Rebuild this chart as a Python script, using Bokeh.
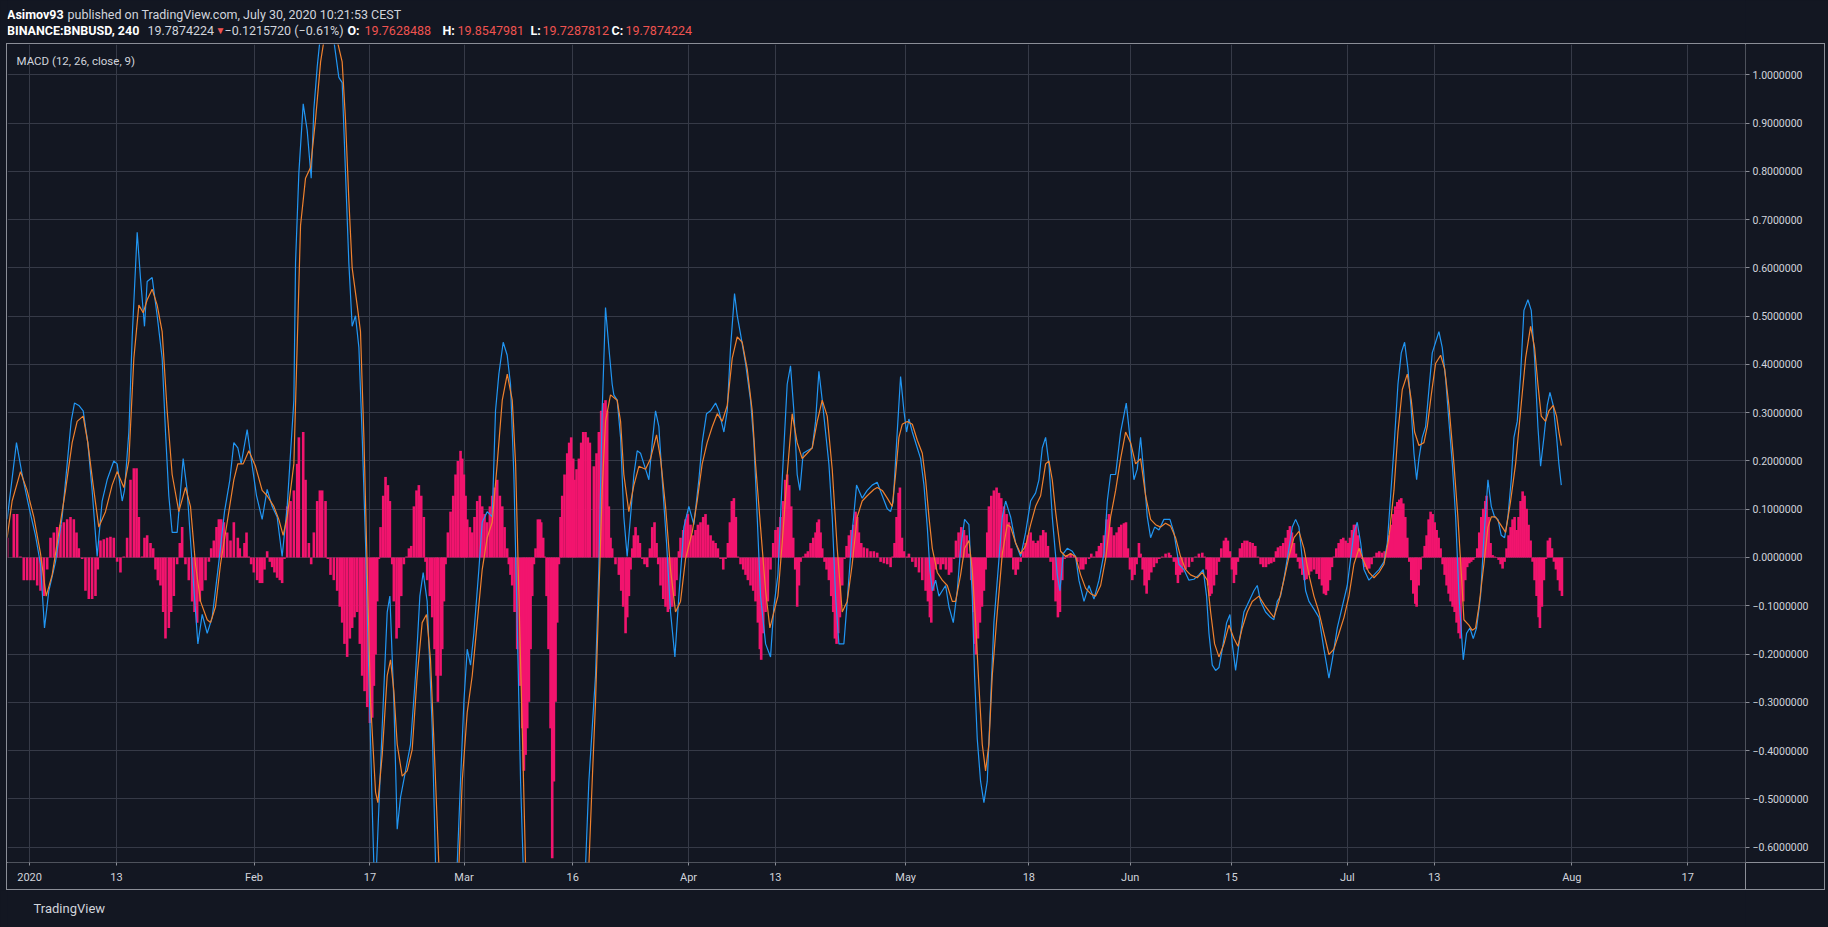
import pandas as pd
from bokeh.plotting import figure
from bokeh.layouts import column
from bokeh.models import (Range1d, LinearAxis, FixedTicker, Grid, Label,
                          ColumnDataSource, GlobalInlineStyleSheet)
from bokeh.embed import file_html
from bokeh.resources import INLINE

# ---------------- data (x = days since 2020-01-01 00:00, BINANCE:BNBUSD 4h MACD) ----------------
macd_line = [
    (-3.10, 0.079), (-1.81, 0.238), (-1.03, 0.172), (-0.11, 0.106), (0.81, 0.046), (1.51, -0.014),
    (2.06, -0.146), (2.66, -0.069), (3.58, -0.009), (4.50, 0.084), (5.19, 0.194), (5.74, 0.282),
    (6.20, 0.320), (6.80, 0.315), (7.40, 0.304), (8.04, 0.238), (8.64, 0.139), (9.33, 0.002),
    (10.02, 0.117), (10.71, 0.161), (11.63, 0.200), (12.09, 0.194), (12.79, 0.117), (13.11, 0.139),
    (13.71, 0.260), (14.17, 0.457), (14.86, 0.674), (15.32, 0.578), (15.87, 0.479), (16.24, 0.572),
    (16.93, 0.580), (17.62, 0.501), (18.31, 0.413), (18.77, 0.260), (19.23, 0.128), (19.69, 0.052),
    (20.38, 0.052), (21.21, 0.205), (21.76, 0.139), (22.45, -0.014), (23.24, -0.179), (23.84, -0.118),
    (24.53, -0.157), (25.22, -0.124), (26.14, -0.009), (26.92, 0.095), (27.66, 0.161), (28.21, 0.238),
    (28.76, 0.227), (29.22, 0.194), (30.05, 0.265), (30.60, 0.205), (31.34, 0.128), (32.12, 0.079),
    (32.81, 0.141), (33.50, 0.106), (34.19, 0.084), (34.88, 0.002), (35.58, 0.106), (36.50, 0.326),
    (36.73, 0.611), (37.19, 0.797), (37.79, 0.940), (38.34, 0.885), (38.89, 0.786), (39.26, 0.929),
    (39.72, 1.016), (40.09, 1.071), (41.00, 1.220), (42.02, 1.071), (42.71, 0.995), (43.17, 0.984),
    (43.63, 0.797), (44.09, 0.611), (44.55, 0.479), (45.01, 0.501), (45.48, 0.435), (45.94, 0.249),
    (46.40, 0.030), (46.86, -0.245), (47.32, -0.519), (47.55, -0.639), (47.80, -0.680), (48.09, -0.573),
    (48.69, -0.354), (49.39, -0.113), (49.76, -0.080), (50.31, -0.299), (50.77, -0.563), (51.23, -0.497),
    (51.92, -0.442), (52.61, -0.387), (53.30, -0.245), (53.90, -0.080), (54.36, -0.031), (54.91, -0.091),
    (55.61, -0.354), (56.07, -0.639), (57.50, -0.850), (59.05, -0.639), (59.51, -0.464), (59.98, -0.299),
    (60.44, -0.190), (60.90, -0.223), (61.36, -0.157), (62.05, -0.025), (62.51, 0.073), (63.20, 0.095),
    (63.89, 0.084), (64.35, 0.304), (64.81, 0.380), (65.41, 0.446), (65.96, 0.419), (66.42, 0.359),
    (66.88, 0.172), (67.34, -0.135), (67.81, -0.464), (68.17, -0.639), (70.50, -1.500), (72.50, -1.700),
    (74.50, -1.300), (76.78, -0.639), (77.24, -0.464), (77.70, -0.354), (78.16, -0.245), (78.62, -0.025),
    (79.08, 0.304), (79.54, 0.518), (80.00, 0.435), (80.46, 0.359), (80.69, 0.337), (81.15, 0.326),
    (81.62, 0.249), (82.07, 0.084), (82.53, 0.002), (82.99, 0.084), (83.46, 0.172), (83.92, 0.221),
    (84.38, 0.216), (84.84, 0.194), (85.53, 0.161), (85.99, 0.238), (86.45, 0.304), (86.91, 0.271),
    (87.37, 0.161), (87.97, 0.030), (88.52, -0.113), (89.12, -0.206), (89.67, -0.080), (90.36, 0.063),
    (91.05, 0.106), (91.74, 0.068), (92.43, 0.161), (92.89, 0.238), (93.49, 0.298), (94.05, 0.304),
    (94.74, 0.320), (95.20, 0.304), (95.89, 0.260), (96.35, 0.304), (96.81, 0.435), (97.36, 0.547),
    (97.73, 0.501), (98.19, 0.463), (98.88, 0.402), (99.57, 0.326), (100.03, 0.238), (100.49, 0.084),
    (100.95, -0.080), (101.65, -0.179), (102.33, -0.206), (102.79, -0.102), (103.35, -0.036), (103.94, 0.161),
    (104.63, 0.359), (105.09, 0.397), (105.55, 0.304), (106.01, 0.172), (106.38, 0.139), (106.84, 0.216),
    (107.40, 0.221), (108.09, 0.227), (108.55, 0.282), (109.01, 0.386), (109.47, 0.326), (109.93, 0.260),
    (110.39, 0.194), (110.85, 0.084), (111.31, -0.080), (111.77, -0.179), (112.46, -0.179), (112.92, -0.091),
    (113.61, 0.052), (114.21, 0.150), (114.99, 0.123), (115.68, 0.139), (116.37, 0.150), (117.06, 0.156),
    (117.76, 0.128), (118.45, 0.101), (118.91, 0.095), (119.28, 0.117), (119.74, 0.238), (120.29, 0.375),
    (120.75, 0.304), (121.12, 0.260), (121.44, 0.287), (121.91, 0.260), (122.60, 0.227), (123.06, 0.205),
    (123.52, 0.150), (123.98, 0.063), (124.34, -0.025), (124.67, -0.069), (125.13, -0.047), (125.59, -0.080),
    (126.05, -0.069), (126.51, -0.058), (126.97, -0.102), (127.57, -0.135), (128.12, -0.069), (128.58, 0.019),
    (129.13, 0.079), (129.73, 0.068), (130.19, -0.080), (130.51, -0.245), (130.88, -0.376), (131.34, -0.464),
    (131.80, -0.508), (132.26, -0.464), (132.72, -0.299), (133.18, -0.135), (133.88, -0.003), (134.34, 0.084),
    (134.80, 0.117), (135.49, 0.084), (136.18, 0.030), (136.87, 0.002), (137.56, 0.052), (138.25, 0.117),
    (138.94, 0.134), (139.40, 0.161), (139.86, 0.227), (140.32, 0.249), (140.78, 0.194), (141.24, 0.084),
    (141.93, -0.036), (142.30, -0.069), (142.76, 0.008), (143.31, 0.019), (144.00, 0.013), (144.46, 0.002),
    (144.92, -0.047), (145.62, -0.091), (146.31, -0.058), (147.00, -0.086), (147.69, -0.047), (148.38, 0.008),
    (148.84, 0.117), (149.30, 0.172), (149.99, 0.172), (150.68, 0.260), (151.46, 0.320), (151.97, 0.249),
    (152.52, 0.161), (152.98, 0.183), (153.44, 0.249), (153.90, 0.172), (154.36, 0.084), (154.82, 0.041),
    (155.38, 0.063), (155.97, 0.057), (156.66, 0.079), (157.49, 0.079), (158.04, 0.052), (158.73, -0.014),
    (159.42, -0.025), (160.11, -0.047), (160.80, -0.045), (161.49, -0.036), (162.09, -0.025), (162.55, -0.080),
    (162.88, -0.157), (163.34, -0.223), (163.80, -0.234), (164.26, -0.228), (164.72, -0.190), (165.32, -0.135),
    (165.78, -0.118), (166.10, -0.179), (166.56, -0.234), (167.02, -0.179), (167.71, -0.113), (168.40, -0.091),
    (169.09, -0.069), (169.55, -0.058), (170.01, -0.091), (170.70, -0.113), (171.39, -0.124), (171.85, -0.129),
    (172.31, -0.091), (172.77, -0.080), (173.33, -0.036), (173.93, 0.019), (174.39, 0.063), (174.85, 0.079),
    (175.31, 0.063), (175.77, -0.003), (176.23, -0.069), (176.69, -0.091), (177.38, -0.107), (178.07, -0.124),
    (178.76, -0.190), (179.45, -0.250), (179.91, -0.212), (180.60, -0.146), (181.29, -0.102), (181.98, -0.058),
    (182.44, -0.003), (182.90, 0.052), (183.36, 0.073), (183.83, 0.030), (184.29, -0.025), (184.97, -0.047),
    (185.67, -0.036), (186.36, -0.025), (187.05, -0.009), (187.51, 0.030), (187.97, 0.128), (188.43, 0.227),
    (188.98, 0.359), (189.44, 0.424), (189.90, 0.446), (190.36, 0.391), (190.82, 0.304), (191.19, 0.216),
    (191.56, 0.161), (191.88, 0.205), (192.34, 0.249), (192.80, 0.271), (193.26, 0.348), (193.72, 0.424),
    (194.18, 0.446), (194.64, 0.468), (195.10, 0.435), (195.57, 0.370), (196.02, 0.282), (196.49, 0.194),
    (196.95, 0.084), (197.41, -0.080), (198.00, -0.212), (198.46, -0.157), (198.92, -0.146), (199.38, -0.168),
    (199.84, -0.146), (200.39, -0.080), (200.85, 0.041), (201.41, 0.161), (201.87, 0.106), (202.33, 0.084),
    (202.79, 0.079), (203.25, 0.046), (203.71, 0.041), (204.17, 0.084), (204.63, 0.161), (205.00, 0.249),
    (205.46, 0.282), (205.92, 0.380), (206.38, 0.512), (206.93, 0.534), (207.39, 0.512), (207.85, 0.413),
    (208.31, 0.271), (208.68, 0.189), (209.14, 0.249), (209.60, 0.315), (209.97, 0.342), (210.43, 0.315),
    (210.89, 0.249), (211.21, 0.194), (211.54, 0.150),
]

signal_line = [
    (-3.10, 0.041), (-2.41, 0.117), (-1.26, 0.178), (-0.34, 0.139), (0.58, 0.084), (1.51, 0.008),
    (2.29, -0.080), (3.12, -0.036), (4.04, 0.052), (4.96, 0.139), (5.88, 0.238), (6.57, 0.282),
    (7.40, 0.293), (8.04, 0.238), (8.78, 0.150), (9.56, 0.063), (10.48, 0.095), (11.40, 0.150),
    (12.09, 0.178), (13.02, 0.145), (13.71, 0.200), (14.40, 0.413), (15.09, 0.523), (15.69, 0.507),
    (16.24, 0.534), (16.93, 0.556), (17.62, 0.523), (18.31, 0.468), (19.00, 0.304), (19.69, 0.172),
    (20.61, 0.095), (21.53, 0.145), (22.22, 0.106), (22.91, -0.014), (23.61, -0.091), (24.53, -0.129),
    (24.99, -0.135), (25.68, -0.102), (26.37, -0.014), (27.29, 0.073), (28.21, 0.161), (28.76, 0.194),
    (29.50, 0.194), (30.28, 0.221), (31.20, 0.189), (32.12, 0.139), (32.81, 0.128), (33.73, 0.106),
    (34.42, 0.079), (35.02, 0.046), (35.58, 0.084), (36.50, 0.194), (37.42, 0.688), (38.11, 0.786),
    (38.80, 0.808), (39.49, 0.907), (40.19, 1.027), (40.65, 1.071), (41.50, 1.170), (42.48, 1.071),
    (43.17, 1.027), (43.63, 0.907), (44.09, 0.742), (44.55, 0.600), (45.24, 0.523), (45.70, 0.468),
    (46.17, 0.249), (46.63, -0.025), (47.09, -0.299), (47.78, -0.486), (48.10, -0.508), (48.70, -0.409),
    (49.39, -0.245), (49.85, -0.212), (50.31, -0.277), (50.77, -0.387), (51.46, -0.453), (52.15, -0.442),
    (52.84, -0.398), (53.53, -0.245), (54.22, -0.135), (54.82, -0.118), (55.37, -0.212), (56.07, -0.464),
    (56.53, -0.639), (58.00, -0.800), (59.29, -0.639), (59.75, -0.464), (60.44, -0.321), (61.13, -0.245),
    (61.82, -0.135), (62.51, -0.025), (63.20, 0.041), (63.89, 0.073), (64.58, 0.194), (65.28, 0.326),
    (65.97, 0.380), (66.66, 0.326), (67.12, 0.194), (67.58, -0.080), (68.04, -0.354), (68.50, -0.639),
    (71.00, -1.200), (73.50, -1.450), (75.50, -1.200), (77.24, -0.639), (77.70, -0.464), (78.16, -0.299),
    (78.62, -0.080), (79.08, 0.139), (79.54, 0.282), (80.23, 0.337), (81.15, 0.326), (81.62, 0.282),
    (82.07, 0.172), (82.76, 0.095), (83.46, 0.150), (84.15, 0.189), (85.07, 0.183), (85.76, 0.205),
    (86.59, 0.254), (87.14, 0.205), (87.83, 0.106), (88.52, -0.025), (89.21, -0.113), (89.90, -0.091),
    (90.59, -0.003), (91.51, 0.052), (92.20, 0.117), (92.89, 0.194), (93.58, 0.238), (94.28, 0.271),
    (94.97, 0.298), (95.66, 0.282), (96.35, 0.315), (97.04, 0.413), (97.73, 0.457), (98.42, 0.446),
    (99.11, 0.391), (99.80, 0.304), (100.26, 0.194), (100.95, 0.063), (101.65, -0.069), (102.24, -0.146),
    (102.79, -0.113), (103.35, -0.080), (103.94, 0.030), (104.63, 0.172), (105.32, 0.298), (106.01, 0.238),
    (106.70, 0.205), (107.40, 0.216), (108.09, 0.227), (108.78, 0.282), (109.47, 0.326), (110.16, 0.293),
    (110.85, 0.183), (111.54, 0.019), (112.23, -0.113), (112.92, -0.091), (113.61, -0.014), (114.30, 0.084),
    (114.99, 0.117), (115.68, 0.128), (116.60, 0.141), (117.07, 0.145), (117.76, 0.139), (118.45, 0.123),
    (119.14, 0.106), (119.60, 0.172), (120.06, 0.249), (120.52, 0.276), (121.21, 0.282), (121.91, 0.276),
    (122.60, 0.243), (123.29, 0.216), (123.75, 0.161), (124.21, 0.084), (124.67, 0.019), (125.36, -0.031),
    (126.05, -0.047), (126.74, -0.058), (127.43, -0.091), (127.89, -0.091), (128.58, -0.036), (129.13, 0.019),
    (129.73, 0.035), (130.19, -0.025), (130.65, -0.135), (131.11, -0.266), (131.57, -0.387), (132.03, -0.442),
    (132.49, -0.387), (132.95, -0.245), (133.65, -0.113), (134.34, 0.008), (135.03, 0.068), (135.49, 0.063),
    (136.18, 0.030), (136.87, 0.008), (137.56, 0.024), (138.25, 0.068), (138.94, 0.106), (139.63, 0.128),
    (140.32, 0.194), (140.78, 0.200), (141.24, 0.161), (141.70, 0.095), (142.39, 0.013), (143.08, 0.002),
    (143.77, 0.008), (144.46, 0.002), (145.16, -0.036), (145.85, -0.064), (146.54, -0.075), (147.23, -0.080),
    (147.92, -0.058), (148.61, -0.003), (149.30, 0.084), (149.99, 0.139), (150.68, 0.205), (151.37, 0.260),
    (152.06, 0.238), (152.75, 0.194), (153.44, 0.205), (154.13, 0.128), (154.82, 0.079), (155.51, 0.068),
    (156.20, 0.063), (156.89, 0.071), (157.58, 0.065), (158.27, 0.041), (158.96, 0.002), (159.65, -0.025),
    (160.34, -0.036), (161.26, -0.042), (161.96, -0.031), (162.65, -0.047), (163.11, -0.113), (163.66, -0.179),
    (164.26, -0.206), (164.95, -0.179), (165.64, -0.140), (166.33, -0.168), (166.88, -0.184), (167.48, -0.146),
    (168.17, -0.113), (168.86, -0.091), (169.78, -0.080), (170.70, -0.102), (171.85, -0.124), (172.54, -0.091),
    (173.23, -0.047), (173.93, 0.002), (174.62, 0.041), (175.31, 0.054), (176.00, 0.019), (176.69, -0.036),
    (177.38, -0.080), (178.07, -0.113), (178.76, -0.157), (179.45, -0.201), (180.14, -0.190), (180.84, -0.157),
    (181.53, -0.124), (182.21, -0.080), (182.90, -0.014), (183.60, 0.019), (184.29, -0.009), (184.97, -0.031),
    (185.67, -0.042), (186.36, -0.031), (187.05, -0.014), (187.74, 0.041), (188.43, 0.139), (188.98, 0.260),
    (189.58, 0.348), (190.27, 0.380), (190.82, 0.326), (191.28, 0.260), (191.88, 0.232), (192.57, 0.238),
    (193.03, 0.271), (193.58, 0.337), (194.18, 0.402), (194.87, 0.419), (195.43, 0.391), (196.02, 0.315),
    (196.71, 0.194), (197.26, 0.084), (197.80, -0.050), (198.09, -0.129), (198.78, -0.140), (199.24, -0.151),
    (199.70, -0.146), (200.16, -0.102), (200.85, -0.014), (201.41, 0.063), (201.87, 0.084), (202.47, 0.084),
    (203.16, 0.068), (203.85, 0.052), (204.54, 0.117), (205.23, 0.194), (205.92, 0.304), (206.61, 0.413),
    (207.30, 0.479), (207.85, 0.435), (208.31, 0.359), (208.77, 0.293), (209.37, 0.282), (209.83, 0.304),
    (210.43, 0.315), (210.89, 0.293), (211.21, 0.260), (211.54, 0.232),
]

histogram = [
    (-3.10, 0.041), (-2.18, 0.090), (-1.72, 0.090), (-1.26, 0.002), (-0.80, -0.047), (-0.34, -0.047),
    (0.12, -0.047), (0.58, -0.047), (1.05, -0.058), (1.51, -0.069), (1.97, -0.080), (2.43, -0.025),
    (2.89, 0.041), (3.35, 0.052), (3.81, 0.063), (4.27, 0.068), (4.73, 0.073), (5.19, 0.079), (5.65, 0.084),
    (6.11, 0.079), (6.48, 0.052), (6.80, 0.019), (7.26, -0.003), (7.72, -0.069), (8.18, -0.086), (8.64, -0.086),
    (9.10, -0.080), (9.42, -0.025), (9.79, 0.035), (10.25, 0.038), (10.71, 0.041), (11.17, 0.043), (11.63, 0.041),
    (12.09, -0.009), (12.55, -0.031), (13.01, 0.002), (13.47, 0.041), (13.94, 0.161), (14.40, 0.185), (14.77, 0.185),
    (15.09, 0.084), (15.55, 0.002), (15.87, 0.041), (16.24, 0.046), (16.70, 0.030), (17.07, 0.019), (17.39, -0.025),
    (17.71, -0.047), (18.08, -0.058), (18.45, -0.113), (18.77, -0.168), (19.23, -0.146), (19.55, -0.113),
    (19.92, -0.080), (20.38, -0.014), (20.75, 0.030), (21.07, 0.063), (21.53, -0.014), (21.99, -0.047),
    (22.45, -0.091), (22.78, -0.113), (23.14, -0.135), (23.51, -0.091), (23.84, -0.069), (24.30, -0.047),
    (24.76, -0.009), (25.08, 0.019), (25.45, 0.035), (25.82, 0.063), (26.14, 0.079), (26.46, 0.079), (26.83, 0.073),
    (27.29, 0.052), (27.75, 0.035), (28.21, 0.073), (28.76, 0.041), (29.03, 0.019), (29.36, 0.002), (29.68, 0.030),
    (29.96, 0.052), (30.28, 0.002), (30.60, -0.014), (30.97, -0.031), (31.43, -0.047), (31.80, -0.053),
    (32.12, -0.053), (32.44, -0.025), (32.81, 0.013), (33.18, -0.009), (33.50, -0.020), (33.82, -0.031),
    (34.19, -0.042), (34.56, -0.047), (34.88, -0.053), (35.20, -0.003), (35.58, 0.106), (36.04, 0.117),
    (36.50, 0.139), (36.96, 0.194), (37.19, 0.249), (37.79, 0.260), (38.11, 0.161), (38.57, 0.030), (38.89, -0.014),
    (39.26, 0.052), (39.72, 0.117), (40.09, 0.139), (40.41, 0.139), (40.87, 0.117), (41.19, -0.003), (41.56, -0.036),
    (42.02, -0.047), (42.48, -0.069), (42.84, -0.102), (43.17, -0.135), (43.49, -0.179), (43.86, -0.206),
    (44.23, -0.168), (44.55, -0.146), (44.87, -0.124), (45.24, -0.113), (45.61, -0.179), (45.93, -0.245),
    (46.26, -0.277), (46.63, -0.310), (47.00, -0.343), (47.32, -0.332), (47.55, -0.266), (47.78, -0.201),
    (48.01, -0.091), (48.24, -0.003), (48.47, 0.063), (48.84, 0.128), (49.16, 0.167), (49.49, 0.150), (49.76, 0.117),
    (50.08, -0.014), (50.31, -0.091), (50.68, -0.168), (51.00, -0.146), (51.33, -0.080), (51.69, -0.014),
    (52.06, 0.002), (52.39, 0.019), (52.71, 0.024), (53.08, 0.106), (53.44, 0.139), (53.76, 0.150), (54.09, 0.128),
    (54.45, 0.084), (54.68, -0.009), (54.91, -0.047), (55.28, -0.080), (55.61, -0.124), (55.93, -0.190),
    (56.21, -0.245), (56.39, -0.299), (56.76, -0.245), (56.99, -0.190), (57.22, -0.091), (57.45, -0.014),
    (57.77, 0.052), (58.14, 0.095), (58.51, 0.128), (58.83, 0.172), (59.15, 0.200), (59.52, 0.221), (59.75, 0.205),
    (59.98, 0.172), (60.21, 0.128), (60.44, 0.079), (60.81, 0.063), (61.13, 0.052), (61.45, 0.084), (61.82, 0.117),
    (62.18, 0.128), (62.51, 0.106), (62.83, 0.090), (63.20, 0.073), (63.57, 0.106), (63.89, 0.128), (64.21, 0.145),
    (64.58, 0.161), (64.95, 0.128), (65.28, 0.106), (65.60, 0.063), (65.96, 0.019), (66.19, -0.014), (66.42, -0.036),
    (66.65, -0.058), (66.98, -0.113), (67.34, -0.190), (67.71, -0.266), (68.04, -0.354), (68.27, -0.442),
    (68.50, -0.409), (68.73, -0.354), (68.96, -0.299), (69.19, -0.190), (69.42, -0.080), (69.65, -0.014),
    (69.88, 0.019), (70.20, 0.079), (70.48, 0.079), (70.66, 0.073), (70.93, 0.041), (71.12, 0.002), (71.40, -0.080),
    (71.67, -0.190), (71.95, -0.354), (72.18, -0.623), (72.41, -0.464), (72.64, -0.299), (72.87, -0.135),
    (73.10, -0.014), (73.33, 0.084), (73.56, 0.128), (73.88, 0.172), (74.25, 0.216), (74.52, 0.238), (74.80, 0.249),
    (75.08, 0.205), (75.26, 0.161), (75.54, 0.183), (75.86, 0.205), (76.18, 0.238), (76.46, 0.260), (76.78, 0.260),
    (77.10, 0.249), (77.38, 0.238), (77.93, 0.189), (78.30, 0.216), (78.62, 0.260), (78.94, 0.304), (79.22, 0.320),
    (79.54, 0.326), (79.77, 0.304), (80.00, 0.106), (80.23, 0.041), (80.46, 0.019), (80.92, -0.014), (81.38, -0.036),
    (81.71, -0.069), (81.98, -0.102), (82.31, -0.157), (82.54, -0.124), (82.77, -0.080), (83.00, -0.025),
    (83.23, 0.019), (83.46, 0.046), (83.69, 0.063), (84.01, 0.046), (84.29, 0.030), (84.61, -0.003), (84.93, -0.014),
    (85.30, -0.020), (85.67, 0.019), (85.99, 0.063), (86.31, 0.073), (86.59, 0.030), (86.82, -0.014), (87.14, -0.058),
    (87.51, -0.086), (87.83, -0.102), (88.15, -0.113), (88.43, -0.107), (88.75, -0.102), (89.07, -0.080),
    (89.35, -0.047), (89.67, 0.013), (89.90, 0.041), (90.27, 0.057), (90.59, 0.079), (90.91, 0.090), (91.28, 0.068),
    (91.65, 0.046), (91.97, 0.057), (92.30, 0.068), (92.66, 0.073), (93.03, 0.084), (93.35, 0.090), (93.68, 0.068),
    (94.05, 0.046), (94.41, 0.035), (94.74, 0.030), (95.06, 0.019), (95.43, -0.003), (95.80, -0.025), (96.12, -0.003),
    (96.44, 0.030), (96.72, 0.073), (96.99, 0.117), (97.27, 0.123), (97.54, 0.084), (97.82, 0.002), (98.19, -0.014),
    (98.56, -0.025), (98.88, -0.036), (99.20, -0.047), (99.57, -0.058), (99.94, -0.069), (100.26, -0.091),
    (100.58, -0.135), (100.86, -0.190), (101.04, -0.212), (101.32, -0.157), (101.64, -0.113), (101.96, -0.091),
    (102.33, -0.025), (102.70, 0.030), (103.02, 0.057), (103.35, 0.063), (103.71, 0.084), (104.08, 0.117),
    (104.36, 0.161), (104.63, 0.172), (104.91, 0.150), (105.19, 0.106), (105.46, 0.041), (105.74, -0.025),
    (106.01, -0.102), (106.25, -0.058), (106.48, -0.009), (106.84, 0.002), (107.17, 0.008), (107.49, 0.013),
    (107.86, 0.030), (108.23, 0.041), (108.55, 0.052), (108.78, 0.073), (109.01, 0.079), (109.24, 0.052),
    (109.47, 0.019), (109.79, -0.009), (110.07, -0.025), (110.39, -0.047), (110.71, -0.080), (110.99, -0.113),
    (111.22, -0.168), (111.45, -0.179), (111.68, -0.157), (111.91, -0.124), (112.23, -0.058), (112.55, -0.003),
    (112.83, 0.024), (113.15, 0.046), (113.47, 0.057), (113.75, 0.068), (114.07, 0.095), (114.30, 0.084),
    (114.53, 0.052), (114.86, 0.030), (115.22, 0.021), (115.68, 0.019), (116.15, 0.013), (116.60, 0.013),
    (117.06, 0.010), (117.53, -0.009), (117.99, -0.012), (118.45, -0.014), (118.91, -0.020), (119.19, 0.002),
    (119.46, 0.030), (119.74, 0.084), (120.02, 0.134), (120.20, 0.145), (120.48, 0.041), (120.75, 0.013),
    (121.12, 0.002), (121.44, 0.008), (121.91, -0.009), (122.37, -0.020), (122.83, -0.031), (123.29, -0.047),
    (123.75, -0.069), (124.07, -0.091), (124.34, -0.124), (124.53, -0.135), (124.81, -0.069), (125.13, -0.025),
    (125.45, -0.014), (125.82, -0.025), (126.19, -0.014), (126.55, -0.025), (126.97, -0.036), (127.29, -0.031),
    (127.66, -0.003), (127.94, 0.035), (128.30, 0.052), (128.67, 0.063), (129.04, 0.057), (129.41, 0.046),
    (129.73, 0.008), (130.05, -0.047), (130.33, -0.113), (130.51, -0.179), (130.70, -0.201), (130.97, -0.168),
    (131.25, -0.135), (131.53, -0.102), (131.80, -0.069), (132.03, -0.025), (132.26, 0.052), (132.49, 0.106),
    (132.82, 0.128), (133.18, 0.139), (133.55, 0.145), (133.88, 0.134), (134.20, 0.123), (134.57, 0.106),
    (134.93, 0.090), (135.26, 0.073), (135.58, 0.019), (135.86, -0.025), (136.18, -0.036), (136.50, -0.025),
    (136.87, -0.009), (137.24, 0.013), (137.56, 0.030), (137.88, 0.046), (138.25, 0.052), (138.62, 0.035),
    (138.94, 0.030), (139.26, 0.035), (139.63, 0.046), (139.99, 0.057), (140.32, 0.052), (140.64, 0.024),
    (141.01, -0.009), (141.38, -0.047), (141.70, -0.091), (142.02, -0.124), (142.30, -0.113), (142.62, -0.047),
    (142.95, -0.003), (143.31, 0.005), (143.77, 0.008), (144.24, 0.005), (144.70, -0.009), (145.16, -0.025),
    (145.52, -0.025), (145.85, -0.014), (146.31, -0.003), (146.63, 0.008), (147.00, 0.002), (147.37, 0.013),
    (147.69, 0.024), (148.01, 0.030), (148.38, 0.046), (148.75, 0.079), (149.07, 0.090), (149.39, 0.063),
    (149.76, 0.046), (150.13, 0.052), (150.45, 0.063), (150.77, 0.068), (151.14, 0.071), (151.42, 0.073),
    (151.69, 0.019), (151.97, -0.025), (152.29, -0.047), (152.61, -0.036), (152.89, -0.014), (153.21, 0.030),
    (153.44, 0.008), (153.72, -0.025), (153.99, -0.058), (154.27, -0.075), (154.59, -0.047), (154.92, -0.031),
    (155.28, -0.020), (155.65, -0.012), (156.02, -0.003), (156.43, 0.002), (156.89, 0.008), (157.35, 0.010),
    (157.58, 0.005), (158.04, -0.009), (158.36, -0.036), (158.59, -0.053), (158.87, -0.036), (159.19, -0.031),
    (159.65, -0.025), (160.11, -0.020), (160.57, -0.009), (161.03, 0.002), (161.49, 0.008), (161.96, 0.010),
    (162.28, 0.002), (162.55, -0.025), (162.78, -0.058), (163.01, -0.080), (163.24, -0.075), (163.57, -0.058),
    (163.93, -0.036), (164.26, -0.009), (164.58, 0.019), (164.95, 0.035), (165.22, 0.041), (165.50, 0.035),
    (165.78, 0.013), (166.05, -0.025), (166.33, -0.053), (166.61, -0.036), (166.88, -0.009), (167.16, 0.019),
    (167.48, 0.030), (167.80, 0.035), (168.17, 0.035), (168.54, 0.032), (168.91, 0.030), (169.28, 0.024),
    (169.64, 0.002), (170.01, -0.014), (170.38, -0.020), (170.75, -0.020), (171.12, -0.014), (171.49, -0.012),
    (171.85, -0.009), (172.13, 0.013), (172.41, 0.021), (172.77, 0.024), (173.14, 0.030), (173.47, 0.041),
    (173.79, 0.057), (174.06, 0.065), (174.34, 0.052), (174.62, 0.030), (174.89, 0.008), (175.17, -0.009),
    (175.44, -0.023), (175.77, -0.036), (176.09, -0.047), (176.37, -0.045), (176.69, -0.036), (177.01, -0.029),
    (177.38, -0.025), (177.75, -0.034), (178.12, -0.045), (178.48, -0.058), (178.76, -0.075), (179.04, -0.078),
    (179.31, -0.069), (179.59, -0.047), (179.87, -0.020), (180.14, 0.002), (180.47, 0.019), (180.79, 0.030),
    (181.11, 0.038), (181.43, 0.041), (181.75, 0.035), (182.07, 0.030), (182.35, 0.041), (182.63, 0.057),
    (182.90, 0.068), (183.18, 0.068), (183.46, 0.046), (183.73, 0.019), (184.05, -0.003), (184.38, -0.020),
    (184.70, -0.025), (185.02, -0.023), (185.34, -0.014), (185.67, 0.002), (186.03, 0.010), (186.40, 0.013),
    (186.77, 0.010), (187.14, 0.013), (187.51, 0.024), (187.78, 0.046), (188.06, 0.068), (188.34, 0.090),
    (188.61, 0.106), (188.89, 0.115), (189.17, 0.120), (189.44, 0.123), (189.72, 0.112), (189.99, 0.084),
    (190.27, 0.041), (190.55, -0.009), (190.82, -0.047), (191.10, -0.075), (191.38, -0.096), (191.56, -0.102),
    (191.84, -0.058), (192.11, -0.025), (192.39, 0.002), (192.67, 0.024), (192.94, 0.046), (193.22, 0.079),
    (193.49, 0.095), (193.77, 0.090), (194.05, 0.073), (194.32, 0.057), (194.60, 0.041), (194.87, 0.019),
    (195.15, -0.014), (195.43, -0.036), (195.70, -0.058), (195.98, -0.075), (196.25, -0.091), (196.53, -0.102),
    (196.81, -0.113), (197.08, -0.135), (197.36, -0.157), (197.63, -0.168), (198.00, -0.091), (198.28, -0.047),
    (198.55, -0.020), (198.83, -0.012), (199.10, -0.009), (199.38, -0.005), (199.66, -0.001), (199.93, 0.019),
    (200.21, 0.052), (200.49, 0.084), (200.76, 0.101), (201.04, 0.117), (201.22, 0.128), (201.50, 0.084),
    (201.77, 0.030), (202.05, 0.005), (202.33, 0.002), (202.60, -0.001), (202.88, -0.005), (203.16, -0.014),
    (203.43, -0.023), (203.71, -0.009), (203.98, 0.019), (204.26, 0.046), (204.54, 0.063), (204.81, 0.079),
    (205.09, 0.084), (205.37, 0.057), (205.64, 0.084), (205.92, 0.117), (206.20, 0.137), (206.47, 0.128),
    (206.75, 0.101), (207.02, 0.068), (207.30, 0.035), (207.58, -0.009), (207.85, -0.047), (208.13, -0.080),
    (208.41, -0.124), (208.59, -0.146), (208.86, -0.102), (209.14, -0.047), (209.42, -0.003), (209.69, 0.035),
    (209.97, 0.041), (210.25, 0.019), (210.52, -0.009), (210.80, -0.025), (211.08, -0.047), (211.35, -0.069),
    (211.63, -0.080),
]

x_tick_dates = ["2020-01-01", "2020-01-13", "2020-02-01", "2020-02-17", "2020-03-01", "2020-03-16",
                "2020-04-01", "2020-04-13", "2020-05-01", "2020-05-18", "2020-06-01", "2020-06-15",
                "2020-07-01", "2020-07-13", "2020-08-01", "2020-08-17"]
x_tick_labels = ["2020", "13", "Feb", "17", "Mar", "16", "Apr", "13", "May", "18", "Jun", "15",
                 "Jul", "13", "Aug", "17"]
y_tick_values = [-0.6, -0.5, -0.4, -0.3, -0.2, -0.1, 0.0, 0.1, 0.2, 0.3, 0.4, 0.5, 0.6, 0.7, 0.8, 0.9, 1.0]

# ---------------- styling ----------------
BG = "#131722"
GRID = "#363a47"
BORDER = "#8b8e97"
TEXT = "#d1d4dc"
BLUE = "#2196F3"
ORANGE = "#F0812E"
PINK = "#F2146E"
RED = "#EF5350"
FONT = "Roboto"
W = 1828

base = pd.Timestamp("2020-01-01")
x_ticks = [float((pd.Timestamp(d) - base).days) for d in x_tick_dates]

src_macd = ColumnDataSource(dict(x=[q[0] for q in macd_line], y=[q[1] for q in macd_line]))
src_sig = ColumnDataSource(dict(x=[q[0] for q in signal_line], y=[q[1] for q in signal_line]))
src_hist = ColumnDataSource(dict(x=[q[0] for q in histogram], y=[q[1] for q in histogram]))


def strip(height):
    f = figure(width=W, height=height, output_backend="svg", toolbar_location=None, title=None,
               x_axis_type=None, y_axis_type=None, min_border=0, outline_line_color=None,
               background_fill_color=BG, border_fill_color=BG,
               x_range=Range1d(0, 1), y_range=Range1d(0, 1))
    return f


def add_text(fig, text, x, y, color=TEXT, size="12.5px", bold=False):
    fig.add_layout(Label(x=x, y=y, x_units="canvas", y_units="canvas", text=text,
                         text_color=color, text_font=FONT, text_font_size=size,
                         text_font_style="bold" if bold else "normal",
                         text_baseline="middle", text_align="left"))


# ---- header (publication line + symbol line) ----
header = strip(43)
header.stylesheets = [GlobalInlineStyleSheet(
    css="html,body{margin:0;padding:0;background:#131722;overflow:hidden;}")]
WHITE = "#ffffff"
add_text(header, "Asimov93", 6.5, 13.5, color=WHITE, bold=True)
add_text(header, "published on TradingView.com, July 30, 2020 10:21:53 CEST", 67, 13.5)
add_text(header, "BINANCE:BNBUSD, 240", 6.5, 30, color=WHITE, bold=True)
add_text(header, "19.7874224", 147, 30)
add_text(header, "\u25BC", 215, 30, color=RED, size="10px")
add_text(header, "\u22120.1215720 (\u22120.61%)", 224, 30)
add_text(header, "O:", 347, 30, color=WHITE, bold=True)
add_text(header, "19.7628488", 364, 30, color=RED)
add_text(header, "H:", 442, 30, color=WHITE, bold=True)
add_text(header, "19.8547981", 457, 30, color=RED)
add_text(header, "L:", 530, 30, color=WHITE, bold=True)
add_text(header, "19.7287812", 542, 30, color=RED)
add_text(header, "C:", 611, 30, color=WHITE, bold=True)
add_text(header, "19.7874224", 625, 30, color=RED)

# ---- main MACD pane ----
H = 847
border_lines = [  # (left, top, width, height) in px of the pane's box lines drawn behind the canvas
    (6, 0, 1819, 1), (6, H - 1, 1819, 1), (6, 819, 1819, 1),
    (6, 0, 1, H), (1824, 0, 1, H), (1745, 0, 1, H),
]
grad = f"linear-gradient({BORDER},{BORDER})"
pane_styles = {
    "background-color": BG,
    "background-image": ", ".join([grad] * len(border_lines)),
    "background-position": ", ".join(f"{l}px {t}px" for l, t, w, h in border_lines),
    "background-size": ", ".join(f"{w}px {h}px" for l, t, w, h in border_lines),
    "background-repeat": "no-repeat",
}

p = figure(width=W, height=H, output_backend="svg", toolbar_location=None, title=None,
           x_range=Range1d(-3.05, 236.98), y_range=Range1d(-0.632, 1.063),
           x_axis_type=None, y_axis_type=None,
           min_border_left=7, min_border_right=83, min_border_top=1, min_border_bottom=28,
           background_fill_color=BG, border_fill_color=BG, border_fill_alpha=0,
           outline_line_color=None, styles=pane_styles)

xaxis = LinearAxis(ticker=FixedTicker(ticks=x_ticks),
                   major_label_overrides={t: lab for t, lab in zip(x_ticks, x_tick_labels)})
yaxis = LinearAxis(ticker=FixedTicker(ticks=y_tick_values),
                   major_label_overrides={v: f"{v:.7f}".replace("-", "\u2212") for v in y_tick_values})
for ax in (xaxis, yaxis):
    ax.axis_line_color = None
    ax.major_tick_line_color = BORDER
    ax.major_tick_in = 0
    ax.minor_tick_line_color = None
    ax.major_label_text_color = TEXT
    ax.major_label_text_font = FONT
    ax.major_label_text_font_size = "10.5px"
xaxis.major_tick_out = 3
xaxis.major_label_standoff = 5
xaxis.major_label_text_font_size = "11px"
yaxis.major_tick_out = 4
yaxis.major_label_standoff = 3
p.add_layout(xaxis, "below")
p.add_layout(yaxis, "right")
p.add_layout(Grid(dimension=0, ticker=xaxis.ticker, grid_line_color=GRID))
p.add_layout(Grid(dimension=1, ticker=yaxis.ticker, grid_line_color=GRID))

p.vbar(x="x", top="y", bottom=0, width=0.36, source=src_hist, fill_color=PINK, line_color=None)
p.line(x="x", y="y", source=src_macd, line_color=BLUE, line_width=1.2)
p.line(x="x", y="y", source=src_sig, line_color=ORANGE, line_width=1.2)
add_text(p, "MACD (12, 26, close, 9)", 16, 17, size="11.5px")

# ---- footer ----
footer = strip(37)
add_text(footer, "TradingView", 33, 18, size="13px")

layout = column(header, p, footer, spacing=0)
open("out.html", "w").write(file_html(layout, INLINE))
